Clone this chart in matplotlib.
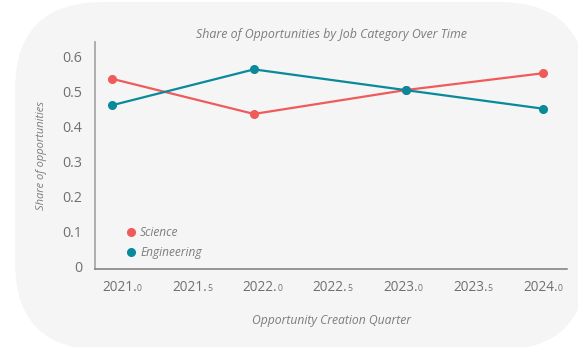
"""
Share of opportunities per job category, by creation quarter.
"""

import matplotlib
matplotlib.use("Agg")
import matplotlib.pyplot as plt
from matplotlib.lines import Line2D
from matplotlib.patches import FancyBboxPatch
from matplotlib.offsetbox import TextArea, HPacker, AnnotationBbox

# creation quarter (decimal year) and share per category
quarters = [2020.93, 2021.94, 2023.02, 2024.00]
science = [0.536, 0.436, 0.504, 0.552]
engineering = [0.461, 0.563, 0.504, 0.451]

series_names = ["Science", "Engineering"]
series_colors = ["#ef5b5b", "#088a9a"]

x_ticks = [2021.0, 2021.5, 2022.0, 2022.5, 2023.0, 2023.5, 2024.0]
y_ticks = [0, 0.1, 0.2, 0.3, 0.4, 0.5, 0.6]
y_tick_labels = ["0", "0.1", "0.2", "0.3", "0.4", "0.5", "0.6"]

TEXT = "#7d7d7d"
TICK = "#707070"
BG = "#f5f5f5"

plt.rcParams["font.family"] = ["Open Sans", "DejaVu Sans"]

W, H = 578, 347
fig = plt.figure(figsize=(W / 100, H / 100), dpi=100)
fig.patch.set_facecolor("white")

# rounded card behind the chart, in display pixels
card = FancyBboxPatch((15, -3), 572, 348,
                      boxstyle="round,pad=0,rounding_size=88",
                      transform=None, facecolor=BG, edgecolor="none",
                      zorder=-10)
fig.patches.append(card)

ax = fig.add_axes([95 / W, 1 - 269 / H, 472 / W, 227 / H])
ax.set_facecolor("none")
ax.set_zorder(1)

for vals, name, color in zip([science, engineering], series_names, series_colors):
    ax.plot(quarters, vals, color=color, lw=1.6, marker="o", ms=5.5,
            label=name, solid_capstyle="round")

ax.set_xlim(2020.807, 2024.171)
ax.set_ylim(-0.0057, 0.641)

for side in ("top", "right"):
    ax.spines[side].set_visible(False)
ax.spines["left"].set_color("#a8a8a8")
ax.spines["left"].set_linewidth(1.3)
ax.spines["bottom"].set_color("#7c7c7c")
ax.spines["bottom"].set_linewidth(1.1)

ax.set_yticks(y_ticks)
ax.set_yticklabels(y_tick_labels)
ax.tick_params(axis="y", length=0, pad=9, labelsize=10.3, labelcolor=TICK)

# x tick labels with a reduced-size decimal digit
ax.set_xticks(x_ticks)
ax.set_xticklabels([])
ax.tick_params(axis="x", length=0)
for t in x_ticks:
    whole, frac = f"{t:.1f}".split(".")
    big = TextArea(whole + ".", textprops=dict(fontsize=9.8, color=TICK))
    small = TextArea(frac, textprops=dict(fontsize=6.2, color=TICK))
    pack = HPacker(children=[big, small], align="baseline", pad=0, sep=0)
    ab = AnnotationBbox(pack, (t, 0), xycoords=("data", "axes fraction"),
                        xybox=(0, -8), boxcoords="offset points",
                        box_alignment=(0.5, 1), frameon=False)
    ax.add_artist(ab)

ax.set_title("Share of Opportunities by Job Category Over Time",
             fontsize=8.9, style="italic", color=TEXT, pad=3)
ax.set_ylabel("Share of opportunities", fontsize=8.0, style="italic",
              color=TEXT, labelpad=11)
ax.set_xlabel("Opportunity Creation Quarter", fontsize=8.7,
              style="italic", color=TEXT, labelpad=29)

handles = [Line2D([], [], color=c, marker="o", ls="none", ms=5.5)
           for c in series_colors]
leg = ax.legend(handles, series_names, loc="lower left",
                bbox_to_anchor=(0.045, -0.005), frameon=False,
                handlelength=0.6, handletextpad=0.5, labelspacing=0.6,
                prop=dict(size=8.6, style="italic"))
for txt in leg.get_texts():
    txt.set_color(TEXT)

fig.savefig("out.png", dpi=100, facecolor=fig.get_facecolor())
